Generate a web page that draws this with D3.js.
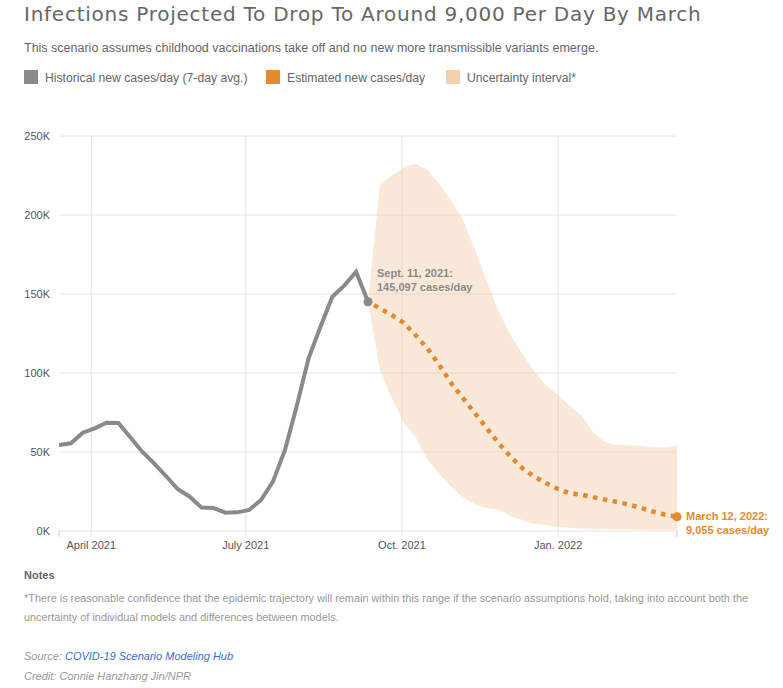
<!DOCTYPE html>
<html>
<head>
<meta charset="utf-8">
<script src="https://cdn.jsdelivr.net/npm/d3@7"></script>
<style>
  body { margin: 0; background: #fff; }
  svg text { font-family: "Liberation Sans", Arial, sans-serif; }
</style>
</head>
<body>
<svg id="chart" width="783" height="688"></svg>
<script>
// Weekly data, Saturdays
const histDates = d3.timeSaturday.range(new Date(2021, 2, 13), new Date(2021, 8, 12))
const projDates = d3.timeSaturday.range(new Date(2021, 8, 11), new Date(2022, 2, 13))

const histValues = [54400, 55500, 62200, 65000, 68500, 68300, 59300, 50200, 42800, 34800,
  26400, 21700, 14800, 14600, 11600, 11800, 13300, 19600, 31200, 51000,
  79000, 109300, 129300, 148300, 155300, 164100, 145097]

const projValues = [145097, 140900, 136700, 131800, 124000, 115600, 105000, 93500, 84000, 74500,
  65000, 55500, 47000, 39700, 34400, 30200, 26600, 23800, 23000, 21300,
  19800, 18300, 16600, 14500, 12300, 10300, 9055]

const upperValues = [145097, 219000, 225000, 230000, 232500, 228500, 220000, 209000, 197000, 178000,
  158000, 139000, 124000, 112000, 101000, 92000, 86000, 79000, 73000, 62000,
  56000, 54500, 54200, 53800, 53000, 52800, 54000]

const lowerValues = [145097, 102000, 84000, 68500, 59500, 45000, 36000, 28000, 21000, 17000,
  14500, 13300, 9500, 7000, 4500, 3800, 2500, 2000, 1600, 1300,
  1100, 1000, 900, 800, 700, 600, 500]

const yTicks = [0, 50000, 100000, 150000, 200000, 250000]
const xTicks = [new Date(2021, 3, 1), new Date(2021, 6, 1), new Date(2021, 9, 1), new Date(2022, 0, 1)]
const xTickLabels = ["April 2021", "July 2021", "Oct. 2021", "Jan. 2022"]

const legendItems = [
  {label: "Historical new cases/day (7-day avg.)", color: "#8a8a8a"},
  {label: "Estimated new cases/day", color: "#e6892c"},
  {label: "Uncertainty interval*", color: "#f6d0aa"}
]

const GRAY = "#8a8a8a"
const ORANGE = "#e6892c"

const svg = d3.select("#chart")

const x = d3.scaleTime()
  .domain([histDates[0], projDates[projDates.length - 1]])
  .range([59, 677])
const y = d3.scaleLinear().domain([0, 250000]).range([531, 136])

const hist = histDates.map((d, i) => ({date: d, v: histValues[i]}))
const proj = projDates.map((d, i) => ({date: d, v: projValues[i], hi: upperValues[i], lo: lowerValues[i]}))

// Header
svg.append("text")
  .attr("x", 24).attr("y", 21)
  .attr("fill", "#666")
  .style("font-family", "'DejaVu Sans', sans-serif")
  .style("font-size", "20px")
  .style("letter-spacing", "0.75px")
  .text("Infections Projected To Drop To Around 9,000 Per Day By March")

svg.append("text")
  .attr("x", 24).attr("y", 52)
  .attr("fill", "#666")
  .style("font-size", "12.5px")
  .text("This scenario assumes childhood vaccinations take off and no new more transmissible variants emerge.")

// Legend
const legendX = [24, 266, 446]
const legend = svg.append("g").attr("class", "legend")
legendItems.forEach((item, i) => {
  const g = legend.append("g").attr("transform", `translate(${legendX[i]}, 70)`)
  g.append("rect").attr("width", 14).attr("height", 14).attr("fill", item.color)
  g.append("text")
    .attr("x", 21).attr("y", 12)
    .attr("fill", "#666")
    .style("font-size", "12.2px")
    .text(item.label)
})

// Gridlines
const grid = svg.append("g")
grid.selectAll(".hgrid").data(yTicks).join("line")
  .attr("x1", 59).attr("x2", 677)
  .attr("y1", d => y(d)).attr("y2", d => y(d))
  .attr("stroke", "#e4e4e4")
grid.selectAll(".vgrid").data(xTicks).join("line")
  .attr("x1", d => x(d)).attr("x2", d => x(d))
  .attr("y1", 136).attr("y2", 537)
  .attr("stroke", "#e4e4e4")
grid.selectAll(".edge").data(x.domain()).join("line")
  .attr("x1", d => x(d)).attr("x2", d => x(d))
  .attr("y1", 531).attr("y2", 537)
  .attr("stroke", "#ccc")

// Axis labels
svg.append("g").selectAll("text").data(yTicks).join("text")
  .attr("x", 50).attr("y", d => y(d) + 4)
  .attr("text-anchor", "end")
  .attr("fill", "#555")
  .style("font-size", "11px")
  .text(d => d / 1000 + "K")

svg.append("g").selectAll("text").data(xTicks).join("text")
  .attr("x", d => x(d)).attr("y", 549)
  .attr("text-anchor", "middle")
  .attr("fill", "#555")
  .style("font-size", "11px")
  .text((d, i) => xTickLabels[i])

// Uncertainty band
const area = d3.area()
  .x(d => x(d.date))
  .y0(d => y(d.lo))
  .y1(d => y(d.hi))
svg.append("path")
  .datum(proj)
  .attr("d", area)
  .attr("fill", "#f3c9a0")
  .attr("fill-opacity", 0.4)

// Lines
const line = d3.line().x(d => x(d.date)).y(d => y(d.v))
svg.append("path")
  .datum(hist)
  .attr("d", line)
  .attr("fill", "none")
  .attr("stroke", GRAY)
  .attr("stroke-width", 4)
  .attr("stroke-linejoin", "miter")

svg.append("path")
  .datum(proj)
  .attr("d", line)
  .attr("fill", "none")
  .attr("stroke", ORANGE)
  .attr("stroke-width", 4.5)
  .attr("stroke-dasharray", "4.5,5.5")
  .attr("stroke-dashoffset", -7)

// End points
const lastHist = hist[hist.length - 1]
const lastProj = proj[proj.length - 1]
svg.append("circle")
  .attr("cx", x(lastHist.date)).attr("cy", y(lastHist.v)).attr("r", 4.5)
  .attr("fill", GRAY)
svg.append("circle")
  .attr("cx", x(lastProj.date)).attr("cy", y(lastProj.v)).attr("r", 4.5)
  .attr("fill", ORANGE)

// Annotations
function annotate(lines, px, py, color){
  const t = svg.append("text")
    .attr("fill", color)
    .style("font-size", "11px")
    .style("font-weight", "bold")
  lines.forEach((s, i) => {
    t.append("tspan").attr("x", px).attr("y", py + i * 14).text(s)
  })
}
annotate(["Sept. 11, 2021:", "145,097 cases/day"], x(lastHist.date) + 9, 277, GRAY)
annotate(["March 12, 2022:", "9,055 cases/day"], x(lastProj.date) + 9, 520, ORANGE)

// Notes
svg.append("text")
  .attr("x", 24).attr("y", 579)
  .attr("fill", "#666")
  .style("font-size", "11px")
  .style("font-weight", "bold")
  .text("Notes")

const note = svg.append("text")
  .attr("fill", "#999")
  .style("font-size", "10.9px")
note.append("tspan").attr("x", 24).attr("y", 602)
  .text("*There is reasonable confidence that the epidemic trajectory will remain within this range if the scenario assumptions hold, taking into account both the")
note.append("tspan").attr("x", 24).attr("y", 621)
  .text("uncertainty of individual models and differences between models.")

const src = svg.append("text")
  .attr("x", 24).attr("y", 660)
  .attr("fill", "#999")
  .style("font-size", "11px")
  .style("font-style", "italic")
src.append("tspan").text("Source: ")
src.append("tspan").attr("fill", "#3a6fd8").text("COVID-19 Scenario Modeling Hub")

svg.append("text")
  .attr("x", 24).attr("y", 680)
  .attr("fill", "#999")
  .style("font-size", "11px")
  .style("font-style", "italic")
  .text("Credit: Connie Hanzhang Jin/NPR")
</script>
</body>
</html>
